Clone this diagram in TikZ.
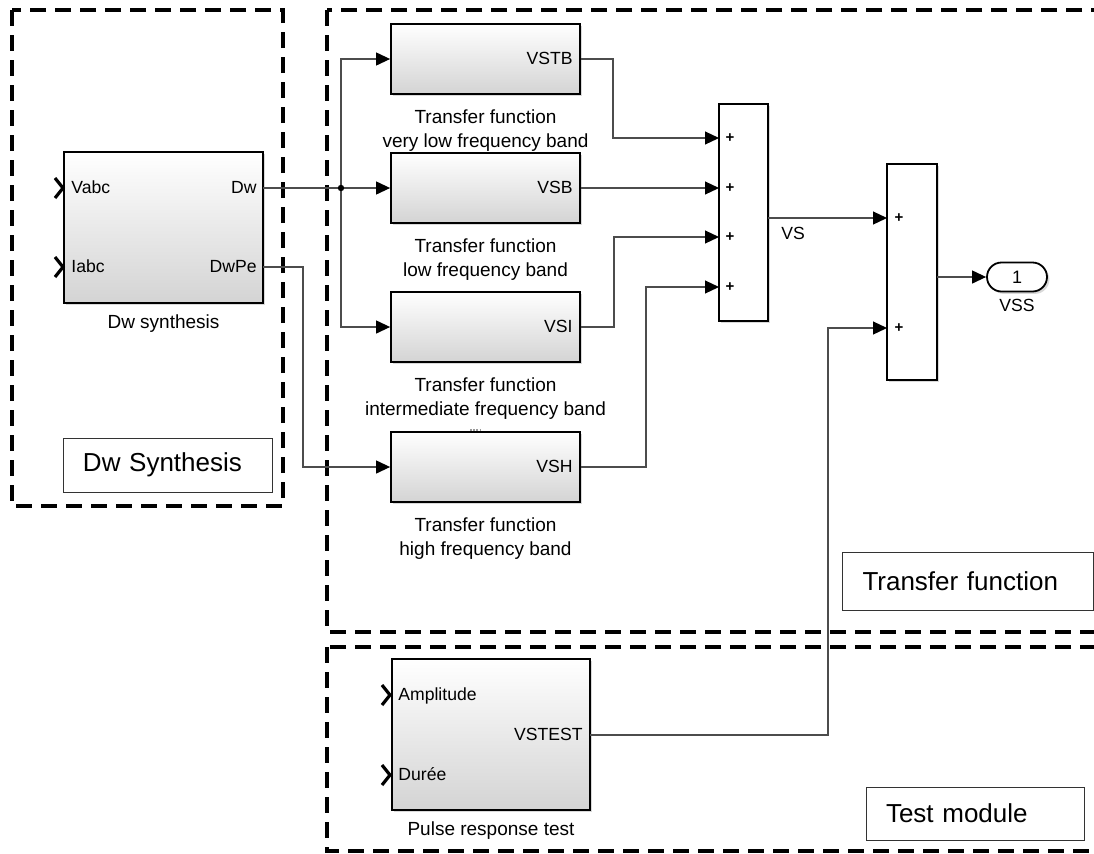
\documentclass[tikz,border=0pt]{standalone}
\usepackage{fontspec}
\setmainfont{Liberation Sans}
\usetikzlibrary{arrows.meta, shadows, shapes.misc, positioning}

\tikzset{
  region/.style={draw, line width=2pt, dash pattern=on 8pt off 4.5pt},
  block/.style={draw, line width=0.9pt, top color=white, bottom color=black!17, inner sep=0,
    drop shadow={shadow xshift=1.2pt, shadow yshift=-1.2pt, opacity=0.3}},
  sumblock/.style={draw, line width=0.9pt, fill=white, inner sep=0,
    drop shadow={shadow xshift=1.2pt, shadow yshift=-1.2pt, opacity=0.3}},
  port/.style={font=\fontsize{8.8}{10}\selectfont, inner sep=0},
  caption/.style={font=\fontsize{9.5}{12}\selectfont, align=center, inner sep=0},
  plus/.style={font=\bfseries\fontsize{7.5}{8}\selectfont, inner sep=0},
  tag/.style={draw=black!80, line width=0.5pt, font=\fontsize{13}{15}\selectfont, align=left, inner ysep=0},
  wire/.style={draw=black!70, line width=0.6pt},
  sig/.style={wire, -{Triangle[length=7pt, width=6.5pt, black]}},
  chev/.style={line width=1.6pt},
}

\begin{document}
\begin{tikzpicture}[x=0.5pt, y=-0.5pt]
    \useasboundingbox (0,0) rectangle (1094,853);
    \clip (0,0) rectangle (1094,853);

    % Dashed regions
    \draw[region] (12,10) rectangle (283,506);
    \draw[region] (327,10) rectangle (1120,632);
    \draw[region] (327,647) rectangle (1120,851);

    % Dw synthesis block
    \node[block, minimum width=99.5pt, minimum height=75.5pt] (dws) at (163.5,227.5) {};
    \node[caption, below=5pt of dws] (dwscap) {Dw synthesis};
    \node[port, anchor=mid west] (vabc) at (71,188) {Vabc};
    \node[port, anchor=mid west] (iabc) at (71,267) {Iabc};
    \node[port, anchor=mid east] (dwlbl) at (257,188) {Dw};
    \node[port, anchor=mid east] (dwpelbl) at (257,267) {DwPe};
    \coordinate (dw) at (263,188);
    \coordinate (dwpe) at (263,267);
    \draw[chev] (55,178) -- (63,188) -- (55,198);
    \draw[chev] (55,257) -- (63,267) -- (55,277);

    % Transfer function blocks
    \node[block, minimum width=94.5pt, minimum height=35pt] (vstb) at (485.5,59) {};
    \node[block, minimum width=94.5pt, minimum height=35pt] (vsb) at (485.5,188) {};
    \node[block, minimum width=94.5pt, minimum height=35pt] (vsi) at (485.5,327) {};
    \node[block, minimum width=94.5pt, minimum height=35pt] (vsh) at (485.5,467) {};
    \node[port, anchor=mid east] at (573,59) {VSTB};
    \node[port, anchor=mid east] at (573,188) {VSB};
    \node[port, anchor=mid east] at (573,327) {VSI};
    \node[port, anchor=mid east] at (573,467) {VSH};
    \node[caption, below=7pt of vstb] (vstbcap) {Transfer function\\very low frequency band};
    \node[caption, below=7pt of vsb] (vsbcap) {Transfer function\\low frequency band};
    \node[caption, below=7pt of vsi] (vsicap) {Transfer function\\intermediate frequency band};
    \node[caption, below=7pt of vsh] (vshcap) {Transfer function\\high frequency band};
    \draw[black!40, line width=1.2pt, dash pattern=on 1pt off 0.6pt] (470,430) -- (481,430);

    % Sum blocks
    \node[sumblock, minimum width=24.5pt, minimum height=108.5pt] (sum1) at (743.5,212.5) {};
    \node[sumblock, minimum width=25pt, minimum height=108pt] (sum2) at (912,272) {};
    \coordinate (s1a) at (719,138);
    \coordinate (s1b) at (719,188);
    \coordinate (s1c) at (719,237);
    \coordinate (s1d) at (719,287);
    \coordinate (s1out) at (768,218);
    \coordinate (s2a) at (887,218);
    \coordinate (s2b) at (887,328);
    \coordinate (s2out) at (937,277);
    \foreach \yy in {138,188,237,287} \node[plus] at (730,\yy) {+};
    \foreach \yy in {218,328} \node[plus] at (899,\yy) {+};
    \node[port] (vslbl) at (793,233) {VS};

    % Output port
    \node[sumblock, rounded rectangle, minimum width=30pt, minimum height=14.5pt,
          font=\fontsize{9}{10}\selectfont] (vss) at (1017,277) {1};
    \node[port, below=3pt of vss] (vsslbl) {VSS};

    % Pulse response test
    \node[block, minimum width=99pt, minimum height=75.5pt] (pulse) at (491,734.5) {};
    \node[caption, below=5pt of pulse] (pulsecap) {Pulse response test};
    \node[port, anchor=mid west] at (398,695) {Amplitude};
    \node[port, anchor=mid west] at (398,775) {Durée};
    \node[port, anchor=mid east] at (583,735) {VSTEST};
    \coordinate (vstest) at (590,735);
    \draw[chev] (382,685) -- (390,695) -- (382,705);
    \draw[chev] (382,765) -- (390,775) -- (382,785);

    % Region tags
    \node[tag, minimum height=27pt, text width=84.5pt, inner xsep=10pt] (tagdw) at (167.5,465) {Dw Synthesis};
    \node[tag, minimum height=29pt, text width=105pt, inner xsep=10.25pt] (tagtf) at (967.5,581) {Transfer function};
    \node[tag, minimum height=26.5pt, text width=89pt, inner xsep=10pt] (tagtest) at (975,813.5) {Test module};

    % Connectors
    \coordinate (br) at (341,188);
    \draw[wire] (dw) -- (br);
    \draw[sig] (br) |- (vstb.west);
    \draw[sig] (br) -- (vsb.west);
    \draw[sig] (br) |- (vsi.west);
    \fill (br) circle (1.6pt);
    \draw[sig] (dwpe) -- ++(40,0) |- (vsh.west);

    \draw[sig] (vstb.east) -- ++(32,0) |- (s1a);
    \draw[sig] (vsb.east) -- (s1b);
    \draw[sig] (vsi.east) -- ++(33,0) |- (s1c);
    \draw[sig] (vsh.east) -- ++(65,0) |- (s1d);

    \draw[sig] (s1out) -- (s2a);
    \draw[sig] (vstest) -- ++(238,0) |- (s2b);
    \draw[sig] (s2out) -- (vss.west);
\end{tikzpicture}
\end{document}
